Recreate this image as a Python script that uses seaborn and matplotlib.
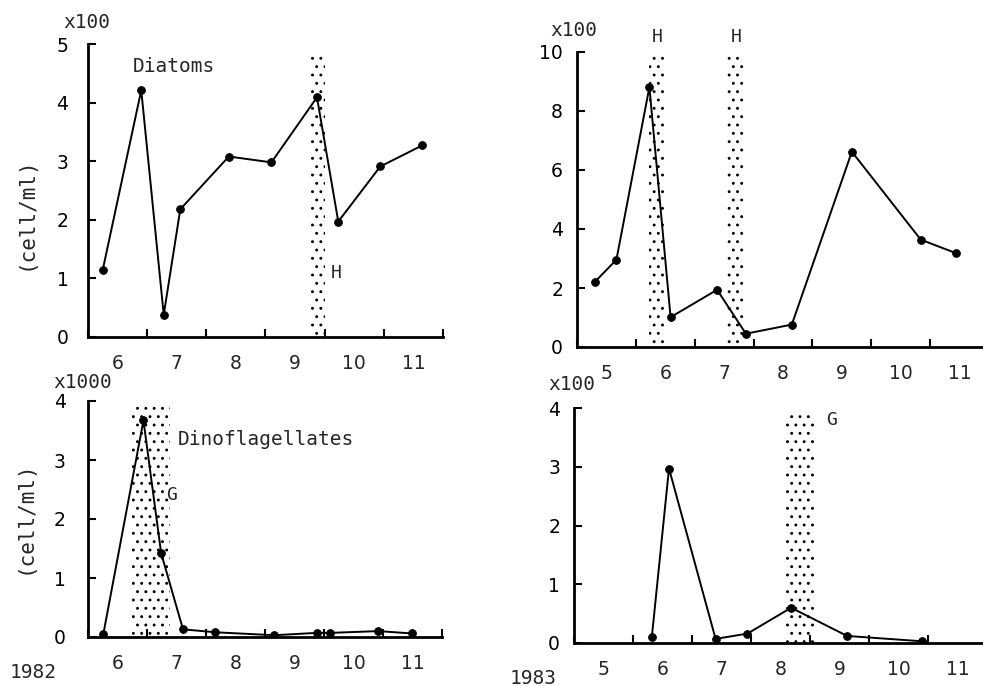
import numpy as np
import pandas as pd
import matplotlib
matplotlib.use('Agg')
import matplotlib.pyplot as plt
import seaborn as sns

# Sampling dates are in month units: month m covers [m, m+1)
diat82_month = [6.25, 6.90, 7.28, 7.56, 8.38, 9.10, 9.87, 10.23, 10.94, 11.65]
diat82_val = [1.15, 4.21, 0.38, 2.18, 3.08, 2.98, 4.09, 1.97, 2.91, 3.27]  # x100 cell/ml

diat83_month = [5.30, 5.67, 6.23, 6.59, 7.38, 7.87, 8.65, 9.67, 10.84, 11.44]
diat83_val = [2.2, 2.96, 8.81, 1.01, 1.94, 0.45, 0.76, 6.62, 3.64, 3.18]  # x100 cell/ml

dino82_month = [6.26, 6.94, 7.24, 7.61, 8.16, 9.16, 9.88, 10.11, 10.92, 11.49]
dino82_val = [0.05, 3.67, 1.42, 0.13, 0.08, 0.03, 0.07, 0.07, 0.10, 0.06]  # x1000 cell/ml

dino83_month = [6.32, 6.61, 7.40, 7.94, 8.68, 9.63, 10.89]
dino83_val = [0.11, 2.97, 0.07, 0.16, 0.60, 0.12, 0.03]  # x100 cell/ml

month_labels_82 = [6, 7, 8, 9, 10, 11]
month_labels_83 = [5, 6, 7, 8, 9, 10, 11]

# shaded periods (start month, end month, top value, letter)
bands_diat82 = [(9.76, 10.0, 4.87, 'H')]
bands_diat83 = [(6.22, 6.47, 9.95, 'H'), (7.55, 7.84, 9.9, 'H')]
bands_dino82 = [(6.75, 7.39, 3.99, 'G')]
bands_dino83 = [(8.57, 9.06, 3.97, 'G')]

sns.set_style('ticks')
mono = 'DejaVu Sans Mono'
plt.rcParams['font.family'] = ['DejaVu Sans']
plt.rcParams['hatch.linewidth'] = 0.9

W, H = 983, 686
fig = plt.figure(figsize=(W / 100, H / 100), dpi=100)


def make_ax(left, right, top, bottom):
    return fig.add_axes([left / W, 1 - bottom / H, (right - left) / W, (bottom - top) / H])


def style_ax(ax, xlo, xhi, ymax, yticks, months, ypad):
    ax.set_xlim(xlo, xhi)
    ax.set_ylim(0, ymax)
    ax.set_xticks(np.arange(xlo, 12.01, 1.0))
    ax.set_xticklabels([])
    ax.set_xticks([m + 0.5 for m in months], minor=True)
    ax.set_xticklabels([str(m) for m in months], minor=True)
    ax.set_yticks(yticks)
    ax.set_yticklabels([str(t) for t in yticks])
    ax.tick_params(axis='both', which='major', direction='in', length=6, width=1.5,
                   labelsize=13.5, colors='black')
    ax.tick_params(axis='y', pad=ypad)
    ax.tick_params(axis='x', which='minor', length=0, pad=12, labelsize=13.5)
    for s in ['top', 'right']:
        ax.spines[s].set_visible(False)
    for s in ['left', 'bottom']:
        ax.spines[s].set_linewidth(2)
        ax.spines[s].set_color('black')
    ax.set_xlabel('')
    ax.set_ylabel('')
    ax.set_facecolor('none')


def draw_bands(ax, bands, label_pos):
    for (x0, x1, top, lab), (lx, ly) in zip(bands, label_pos):
        ax.fill_between([x0, x1], 0, top, facecolor='none', edgecolor='black',
                        hatch='..', linewidth=0)
        ax.text(lx, ly, lab, fontsize=13, family=mono, ha='center', va='center')


def draw_series(ax, months, vals):
    df = pd.DataFrame({'month': months, 'value': vals})
    sns.lineplot(data=df, x='month', y='value', ax=ax, color='black', linewidth=1.4,
                 marker='o', markersize=5.5, markeredgecolor='black', sort=False)


# top-left: diatoms 1982
ax1 = make_ax(88, 443, 44, 337)
draw_bands(ax1, bands_diat82, [(10.2, 1.1)])
draw_series(ax1, diat82_month, diat82_val)
style_ax(ax1, 6, 12, 5, [0, 1, 2, 3, 4, 5], month_labels_82, 14)
ax1.text(6.76, 4.62, 'Diatoms', family=mono, fontsize=14, va='center', ha='left')
fig.text(63 / W, 1 - 22 / H, 'x100', family=mono, fontsize=14, va='center', ha='left')
fig.text(26 / W, 1 - 213 / H, '(cell/ml)', family=mono, fontsize=15, rotation=90,
         va='center', ha='center')

# top-right: diatoms 1983
ax2 = make_ax(577, 989, 52, 347)
draw_bands(ax2, bands_diat83, [(6.36, 10.5), (7.71, 10.5)])
draw_series(ax2, diat83_month, diat83_val)
style_ax(ax2, 5, 12, 10, [0, 2, 4, 6, 8, 10], month_labels_83, 10)
for t in ax2.texts:
    t.set_clip_on(False)
fig.text(550 / W, 1 - 30 / H, 'x100', family=mono, fontsize=14, va='center', ha='left')

# bottom-left: dinoflagellates 1982
ax3 = make_ax(88, 442, 401, 637)
draw_bands(ax3, bands_dino82, [(7.42, 2.4)])
draw_series(ax3, dino82_month, dino82_val)
style_ax(ax3, 6, 12, 4, [0, 1, 2, 3, 4], month_labels_82, 16)
ax3.text(7.52, 3.34, 'Dinoflagellates', family=mono, fontsize=14, va='center', ha='left')
fig.text(53 / W, 1 - 383 / H, 'x1000', family=mono, fontsize=14, va='center', ha='left')
fig.text(25 / W, 1 - 517 / H, '(cell/ml)', family=mono, fontsize=15, rotation=90,
         va='center', ha='center')
fig.text(10 / W, 1 - 673 / H, '1982', family=mono, fontsize=14, va='center', ha='left')

# bottom-right: dinoflagellates 1983
ax4 = make_ax(574, 987, 408, 643)
draw_bands(ax4, bands_dino83, [(9.36, 3.8)])
draw_series(ax4, dino83_month, dino83_val)
style_ax(ax4, 5, 12, 4, [0, 1, 2, 3, 4], month_labels_83, 10)
fig.text(548 / W, 1 - 385 / H, 'x100', family=mono, fontsize=14, va='center', ha='left')
fig.text(510 / W, 1 - 678 / H, '1983', family=mono, fontsize=14, va='center', ha='left')

fig.savefig('out.png', dpi=100, facecolor='white')
